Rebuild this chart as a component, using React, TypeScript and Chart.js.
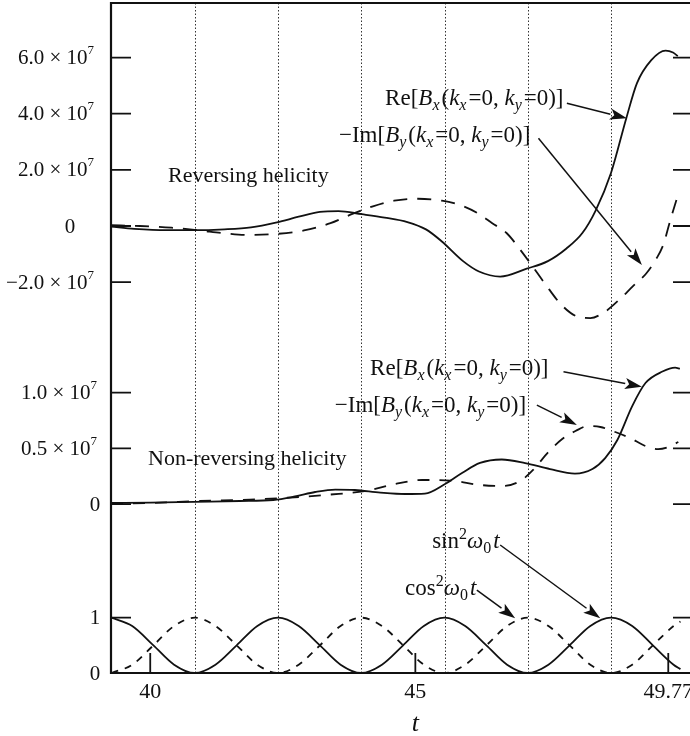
import React, { useEffect, useRef } from "react";
import { Chart, registerables } from "chart.js";
Chart.register(...registerables);

// ---------- data ----------
const X_MIN = 39.26;
const X_MAX = 50.18;
const xTickValues = [40, 45, 49.77];
const xTickLabels = ["40", "45", "49.77"];
const halfPeriodTimes = [40.84, 42.41, 43.98, 45.55, 47.12, 48.69];

// panel ranges (values in units of 10^7 for the two field panels)
const revRange = [-15.922, 7.943];
const nonRange = [-1.518, 4.501];
const trigRange = [0, 12.116];

const revTickValues = [6, 4, 2, 0, -2];
const revTickLabels = ["6.0", "4.0", "2.0", "0", "\u22122.0"];
const nonTickValues = [1, 0.5, 0];
const nonTickLabels = ["1.0", "0.5", "0"];
const trigTickValues = [1, 0];
const trigTickLabels = ["1", "0"];

// Reversing helicity (×10^7)
const revReT = [39.26, 39.7, 40.3, 40.82, 41.4, 41.9, 42.39, 42.8, 43.2, 43.55, 43.99, 44.42, 44.85, 45.2, 45.5, 45.9, 46.2, 46.6, 47.1, 47.5, 47.85, 48.15, 48.4, 48.69, 48.98, 49.18, 49.45, 49.72, 49.86, 49.95];
const revReBx = [-0.02, -0.1, -0.15, -0.15, -0.12, -0.05, 0.13, 0.33, 0.5, 0.53, 0.42, 0.3, 0.14, -0.12, -0.55, -1.25, -1.62, -1.8, -1.52, -1.25, -0.8, -0.25, 0.55, 1.89, 3.85, 5.09, 5.91, 6.25, 6.18, 6.05];
const revImT = [39.26, 39.8, 40.4, 40.9, 41.4, 41.85, 42.4, 42.9, 43.4, 43.8, 44.2, 44.6, 45.05, 45.5, 45.85, 46.17, 46.45, 46.72, 46.98, 47.26, 47.52, 47.75, 48.02, 48.3, 48.58, 48.86, 49.1, 49.35, 49.55, 49.68, 49.8, 49.96];
const revImBy = [0.03, 0.0, -0.06, -0.15, -0.26, -0.32, -0.28, -0.16, 0.1, 0.42, 0.7, 0.9, 0.97, 0.9, 0.74, 0.46, 0.1, -0.25, -0.85, -1.57, -2.25, -2.8, -3.2, -3.28, -3.05, -2.6, -2.15, -1.7, -1.15, -0.65, 0.15, 1.15];

// Non-reversing helicity (×10^7)
const nonReT = [39.26, 40.0, 40.83, 41.69, 42.32, 42.73, 43.11, 43.49, 43.86, 44.34, 44.81, 45.18, 45.56, 45.88, 46.22, 46.63, 47.07, 47.54, 48.01, 48.34, 48.58, 48.81, 49.09, 49.34, 49.66, 49.9, 49.99];
const nonReBx = [0.01, 0.013, 0.02, 0.027, 0.036, 0.068, 0.108, 0.13, 0.126, 0.103, 0.09, 0.094, 0.18, 0.279, 0.369, 0.4, 0.368, 0.314, 0.274, 0.315, 0.413, 0.575, 0.88, 1.087, 1.19, 1.225, 1.216];
const nonImT = [39.26, 40.0, 40.94, 41.88, 42.64, 43.39, 44.05, 44.62, 45.13, 45.66, 46.22, 46.66, 46.98, 47.22, 47.51, 47.77, 48.02, 48.26, 48.49, 48.77, 49.05, 49.34, 49.58, 49.77, 49.96];
const nonImBy = [0.004, 0.009, 0.027, 0.04, 0.058, 0.085, 0.117, 0.18, 0.216, 0.211, 0.171, 0.162, 0.207, 0.306, 0.467, 0.584, 0.656, 0.701, 0.692, 0.647, 0.593, 0.521, 0.494, 0.512, 0.557];

// sin^2 / cos^2 panel
const trigT = [39.27, 39.66, 40.06, 40.45, 40.84, 41.23, 41.63, 42.02, 42.41, 42.8, 43.2, 43.59, 43.98, 44.37, 44.77, 45.16, 45.55, 45.94, 46.34, 46.73, 47.12, 47.51, 47.91, 48.3, 48.69, 49.09, 49.48, 49.87, 50.0];
const sin2Vals = [1, 0.85, 0.5, 0.15, 0, 0.15, 0.5, 0.85, 1, 0.85, 0.5, 0.15, 0, 0.15, 0.5, 0.85, 1, 0.85, 0.5, 0.15, 0, 0.15, 0.5, 0.85, 1, 0.85, 0.5, 0.15, 0.07];
const cos2Vals = [0, 0.15, 0.5, 0.85, 1, 0.85, 0.5, 0.15, 0, 0.15, 0.5, 0.85, 1, 0.85, 0.5, 0.15, 0, 0.15, 0.5, 0.85, 1, 0.85, 0.5, 0.15, 0, 0.15, 0.5, 0.85, 0.93];

// ---------- annotations ----------
type Run = [string, string, string];
const RE_BX: Run[] = [["Re[", "r", ""], ["B", "i", ""], ["x", "i", "sub"], ["(", "r", ""], ["k", "i", ""], ["x", "i", "sub"], ["=0, ", "r", ""], ["k", "i", ""], ["y", "i", "sub"], ["=0)]", "r", ""]];
const IM_BY: Run[] = [["\u2212Im[", "r", ""], ["B", "i", ""], ["y", "i", "sub"], ["(", "r", ""], ["k", "i", ""], ["x", "i", "sub"], ["=0, ", "r", ""], ["k", "i", ""], ["y", "i", "sub"], ["=0)]", "r", ""]];
const SIN2: Run[] = [["sin", "r", ""], ["2", "r", "sup"], ["\u03c9", "i", ""], ["0", "r", "sub"], ["t", "i", ""]];
const COS2: Run[] = [["cos", "r", ""], ["2", "r", "sup"], ["\u03c9", "i", ""], ["0", "r", "sub"], ["t", "i", ""]];

const textNotes = [
  { axis: "yRev", t: 40.335, v: 1.567, size: 22, runs: [["Reversing helicity", "r", ""]] as Run[] },
  { axis: "yRev", t: 44.43, v: 4.31, size: 23, runs: RE_BX },
  { axis: "yRev", t: 43.56, v: 2.99, size: 23, runs: IM_BY },
  { axis: "yNon", t: 39.958, v: 0.35, size: 22, runs: [["Non-reversing helicity", "r", ""]] as Run[] },
  { axis: "yNon", t: 44.147, v: 1.159, size: 23, runs: RE_BX },
  { axis: "yNon", t: 43.48, v: 0.827, size: 23, runs: IM_BY },
  { axis: "yTrig", t: 45.317, v: 2.26, size: 23, runs: SIN2 },
  { axis: "yTrig", t: 44.807, v: 1.41, size: 23, runs: COS2 },
];
const arrowNotes = [
  { axis: "yRev", t0: 47.858, v0: 4.37, t1: 48.99, v1: 3.836 },
  { axis: "yRev", t0: 47.322, v0: 3.124, t1: 49.273, v1: -1.389 },
  { axis: "yNon", t0: 47.794, v0: 1.189, t1: 49.273, v1: 1.054 },
  { axis: "yNon", t0: 47.292, v0: 0.889, t1: 48.047, v1: 0.71 },
  { axis: "yTrig", t0: 46.6, v0: 2.315, t1: 48.487, v1: 0.989 },
  { axis: "yTrig", t0: 46.16, v0: 1.5, t1: 46.883, v1: 0.989 },
];

const FONT = '"Liberation Serif", "Times New Roman", "DejaVu Serif", serif';
const INK = "#111111";

function pts(ts: number[], vs: number[]) {
  return ts.map((t, i) => ({ x: t, y: vs[i] }));
}

function drawRuns(ctx: CanvasRenderingContext2D, x: number, y: number, runs: Run[], base: number) {
  let cx = x;
  const small = Math.round(base * 0.68);
  for (const [txt, style, pos] of runs) {
    const size = pos ? small : base;
    ctx.font = `${style === "i" ? "italic " : ""}${size}px ${FONT}`;
    const dy = pos === "sub" ? 5 : pos === "sup" ? -9 : 0;
    ctx.fillText(txt, cx, y + dy);
    cx += ctx.measureText(txt).width + (pos === "sub" ? 2 : 0);
  }
}

function drawArrow(ctx: CanvasRenderingContext2D, x0: number, y0: number, x1: number, y1: number) {
  const ang = Math.atan2(y1 - y0, x1 - x0);
  const len = 17, hw = 5.5;
  const bx = x1 - len * Math.cos(ang), by = y1 - len * Math.sin(ang);
  ctx.beginPath();
  ctx.moveTo(x0, y0);
  ctx.lineTo(bx, by);
  ctx.stroke();
  ctx.beginPath();
  ctx.moveTo(x1, y1);
  ctx.lineTo(bx + hw * Math.sin(ang), by - hw * Math.cos(ang));
  ctx.lineTo(bx + 4 * Math.cos(ang), by + 4 * Math.sin(ang));
  ctx.lineTo(bx - hw * Math.sin(ang), by + hw * Math.cos(ang));
  ctx.closePath();
  ctx.fill();
}

const overlay = {
  id: "overlay",
  beforeDatasetsDraw(chart: any) {
    const { ctx, chartArea: a, scales } = chart;
    ctx.save();
    ctx.strokeStyle = "#333";
    ctx.lineWidth = 1;
    ctx.setLineDash([1.5, 2]);
    for (const t of halfPeriodTimes) {
      const x = Math.round(scales.x.getPixelForValue(t)) + 0.5;
      ctx.beginPath();
      ctx.moveTo(x, a.top);
      ctx.lineTo(x, a.bottom);
      ctx.stroke();
    }
    ctx.restore();
  },
  afterDatasetsDraw(chart: any) {
    const { ctx, chartArea: a, scales } = chart;
    ctx.save();
    ctx.strokeStyle = INK;
    ctx.fillStyle = INK;
    ctx.setLineDash([]);
    // frame
    ctx.lineWidth = 2.2;
    ctx.beginPath();
    ctx.moveTo(a.right, a.top);
    ctx.lineTo(a.left, a.top);
    ctx.lineTo(a.left, a.bottom);
    ctx.lineTo(a.right, a.bottom);
    ctx.stroke();
    // y ticks
    ctx.lineWidth = 1.8;
    const panels = [
      { id: "yRev", vals: revTickValues, labs: revTickLabels, right: a.left - 17, zeroX: a.left - 41 },
      { id: "yNon", vals: nonTickValues, labs: nonTickLabels, right: a.left - 14, zeroX: a.left - 16 },
      { id: "yTrig", vals: trigTickValues, labs: trigTickLabels, right: a.left - 14, zeroX: a.left - 16 },
    ];
    ctx.textBaseline = "middle";
    for (const p of panels) {
      const sc = scales[p.id];
      p.vals.forEach((v: number, i: number) => {
        const y = sc.getPixelForValue(v);
        ctx.beginPath();
        ctx.moveTo(a.left, y);
        ctx.lineTo(a.left + 20, y);
        ctx.moveTo(a.right - 17, y);
        ctx.lineTo(a.right, y);
        ctx.stroke();
        const lab = p.labs[i];
        if (p.id !== "yTrig" && v !== 0) {
          ctx.font = `21px ${FONT}`;
          const main = lab + " \u00d7 10";
          const w1 = ctx.measureText(main).width;
          ctx.font = `13px ${FONT}`;
          const w2 = ctx.measureText("7").width;
          const x0 = p.right - w1 - w2;
          ctx.font = `21px ${FONT}`;
          ctx.textAlign = "left";
          ctx.fillText(main, x0, y + 1);
          ctx.font = `13px ${FONT}`;
          ctx.fillText("7", x0 + w1, y - 7);
        } else {
          ctx.font = `21px ${FONT}`;
          ctx.textAlign = "center";
          ctx.fillText(lab, p.zeroX, y + 1);
        }
      });
    }
    // x ticks
    ctx.textAlign = "center";
    ctx.textBaseline = "alphabetic";
    xTickValues.forEach((v, i) => {
      const x = scales.x.getPixelForValue(v);
      ctx.beginPath();
      ctx.moveTo(x, a.bottom);
      ctx.lineTo(x, a.bottom - 20);
      ctx.stroke();
      ctx.font = `22px ${FONT}`;
      ctx.fillText(xTickLabels[i], x, a.bottom + 25);
    });
    ctx.font = `italic 26px ${FONT}`;
    ctx.fillText("t", scales.x.getPixelForValue(45), a.bottom + 58);
    // annotations
    ctx.textAlign = "left";
    for (const n of textNotes) {
      drawRuns(ctx, scales.x.getPixelForValue(n.t), scales[n.axis].getPixelForValue(n.v), n.runs, n.size);
    }
    ctx.lineWidth = 1.5;
    for (const ar of arrowNotes) {
      const sc = scales[ar.axis];
      drawArrow(ctx, scales.x.getPixelForValue(ar.t0), sc.getPixelForValue(ar.v0), scales.x.getPixelForValue(ar.t1), sc.getPixelForValue(ar.v1));
    }
    ctx.restore();
  },
};

export default function App() {
  const ref = useRef<HTMLCanvasElement | null>(null);
  useEffect(() => {
    document.body.style.margin = "0";
    document.body.style.overflow = "hidden";
    const canvas = ref.current!;
    const line = (data: any, axis: string, dash: number[]) => ({
      data,
      yAxisID: axis,
      borderColor: INK,
      borderWidth: 1.8,
      borderDash: dash,
      pointRadius: 0,
      fill: false,
      cubicInterpolationMode: "monotone" as const,
    });
    const chart = new Chart(canvas, {
      type: "line",
      data: {
        datasets: [
          line(pts(revReT, revReBx), "yRev", []),
          line(pts(revImT, revImBy), "yRev", [14, 10]),
          line(pts(nonReT, nonReBx), "yNon", []),
          line(pts(nonImT, nonImBy), "yNon", [12, 10]),
          line(pts(trigT, sin2Vals), "yTrig", []),
          line(pts(trigT, cos2Vals), "yTrig", [7, 7]),
        ],
      },
      options: {
        animation: false,
        responsive: false,
        devicePixelRatio: 1,
        layout: { padding: { left: 111, right: 0, top: 3, bottom: 63 } },
        plugins: { legend: { display: false }, tooltip: { enabled: false } },
        scales: {
          x: { type: "linear", min: X_MIN, max: X_MAX, display: false },
          yRev: { type: "linear", min: revRange[0], max: revRange[1], display: false },
          yNon: { type: "linear", min: nonRange[0], max: nonRange[1], display: false },
          yTrig: { type: "linear", min: trigRange[0], max: trigRange[1], display: false },
        },
      },
      plugins: [overlay],
    });
    return () => chart.destroy();
  }, []);
  return <canvas ref={ref} width={690} height={736} style={{ display: "block", width: 690, height: 736 }} />;
}
